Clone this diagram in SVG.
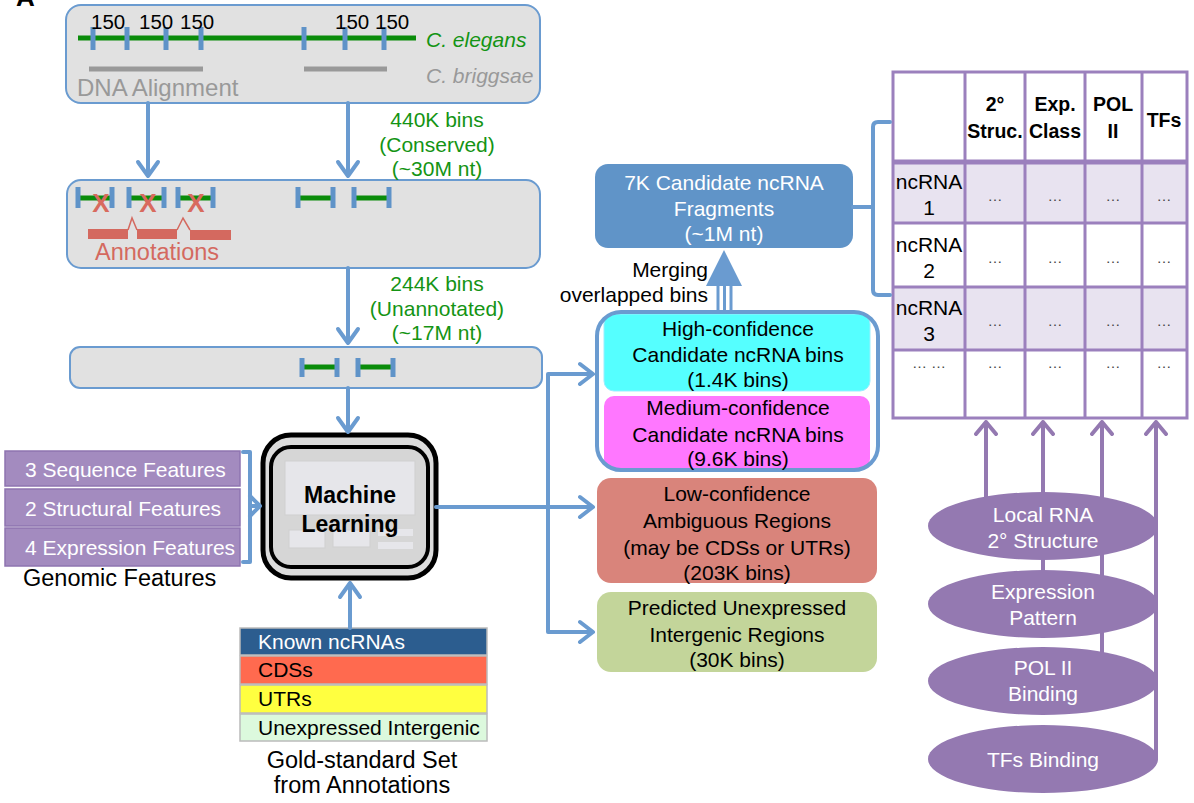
<svg xmlns="http://www.w3.org/2000/svg" width="1194" height="803" viewBox="0 0 1194 803">
<defs>
<style>
text{font-family:"Liberation Sans",Arial,sans-serif;}
.box{fill:#e1e1e1;stroke:#6a9bd0;stroke-width:2}
.con{fill:none;stroke:#6a9bd0;stroke-width:4;stroke-linecap:round;stroke-linejoin:round}
.tick{stroke:#5f93c8;stroke-width:5}
.gl{stroke:#0a8c0a;stroke-width:5}
.grn{fill:#149414;font-size:21px;text-anchor:middle}
.feat{fill:#a38bbf;stroke:#8e74b0;stroke-width:1.5}
.ft{fill:#fff;font-size:21px}
.blk{fill:#000;font-size:21px;text-anchor:middle}
.wht{fill:#fff;font-size:21px;text-anchor:middle}
.cell{stroke:#9b80bd;stroke-width:3}
.hd{font-size:19.5px;font-weight:bold;text-anchor:middle;fill:#000}
.rl{font-size:21px;text-anchor:middle;fill:#000}
.dots{font-size:15px;text-anchor:middle;fill:#444}
.pcon{fill:none;stroke:#9479b1;stroke-width:4;stroke-linecap:round;stroke-linejoin:round}
.ell{fill:#9479b1}
.gs{font-size:21px}
</style>
</defs>
<rect width="1194" height="803" fill="#fff"/>
<text x="16" y="6" font-size="26" font-weight="bold" fill="#000">A</text>

<g id="dna-alignment">
<rect class="box" x="66" y="5" width="474" height="98" rx="15"/>
<line class="gl" x1="78" y1="38" x2="416" y2="38"/>
<g class="tick"><line x1="93" y1="27" x2="93" y2="50"/><line x1="127" y1="27" x2="127" y2="50"/><line x1="166" y1="27" x2="166" y2="50"/><line x1="201" y1="27" x2="201" y2="50"/><line x1="304" y1="27" x2="304" y2="50"/><line x1="345" y1="27" x2="345" y2="50"/><line x1="384" y1="27" x2="384" y2="50"/></g>
<g font-size="20.5" fill="#000"><text x="91" y="29">150</text><text x="139" y="29">150</text><text x="180" y="29">150</text><text x="335" y="29">150</text><text x="375" y="29">150</text></g>
<text x="426" y="47" font-size="21" font-style="italic" fill="#149414">C. elegans</text>
<line x1="89" y1="69" x2="203" y2="69" stroke="#999" stroke-width="5"/>
<line x1="304" y1="69" x2="387" y2="69" stroke="#999" stroke-width="5"/>
<text x="426" y="83" font-size="21" font-style="italic" fill="#999">C. briggsae</text>
<text x="77" y="96" font-size="24" fill="#999">DNA Alignment</text>
</g>

<g id="conserved-bins">
<rect class="box" x="67" y="180" width="473" height="88" rx="14"/>
<g class="gl"><line x1="78" y1="198" x2="112" y2="198"/><line x1="129" y1="198" x2="164" y2="198"/><line x1="178" y1="198" x2="213" y2="198"/><line x1="298" y1="198" x2="333" y2="198"/><line x1="354" y1="198" x2="389" y2="198"/></g>
<g class="tick"><line x1="78" y1="187" x2="78" y2="208"/><line x1="112" y1="187" x2="112" y2="208"/><line x1="129" y1="187" x2="129" y2="208"/><line x1="164" y1="187" x2="164" y2="208"/><line x1="178" y1="187" x2="178" y2="208"/><line x1="213" y1="187" x2="213" y2="208"/><line x1="298" y1="187" x2="298" y2="208"/><line x1="333" y1="187" x2="333" y2="208"/><line x1="354" y1="187" x2="354" y2="208"/><line x1="389" y1="187" x2="389" y2="208"/></g>
<g font-size="26" font-weight="bold" fill="#d86a5e" text-anchor="middle"><text x="101" y="212">X</text><text x="148" y="212">X</text><text x="196" y="212">X</text></g>
<g fill="#d4695f"><rect x="88" y="229" width="40" height="10"/><rect x="137" y="229" width="40" height="10"/><rect x="190" y="230" width="41" height="10"/></g>
<polyline points="128,230 132,218 137,230" fill="none" stroke="#d4695f" stroke-width="1.5"/>
<polyline points="177,230 183,218 190,230" fill="none" stroke="#d4695f" stroke-width="1.5"/>
<text x="95" y="260" font-size="23.5" fill="#d4695f">Annotations</text>
</g>

<g id="unannotated-bins">
<rect class="box" x="70" y="347" width="472" height="41" rx="10"/>
<g class="gl"><line x1="302" y1="367" x2="337" y2="367"/><line x1="358" y1="367" x2="393" y2="367"/></g>
<g class="tick"><line x1="302" y1="358" x2="302" y2="377"/><line x1="337" y1="358" x2="337" y2="377"/><line x1="358" y1="358" x2="358" y2="377"/><line x1="393" y1="358" x2="393" y2="377"/></g>
</g>

<g id="labels-bins">
<text class="grn" x="437" y="127">440K bins</text>
<text class="grn" x="437" y="152">(Conserved)</text>
<text class="grn" x="437" y="176">(~30M nt)</text>
<text class="grn" x="437" y="291">244K bins</text>
<text class="grn" x="437" y="316">(Unannotated)</text>
<text class="grn" x="437" y="340">(~17M nt)</text>
</g>

<g id="machine-learning">
<rect x="263" y="435" width="173" height="143" rx="28" fill="#dcdcdc" stroke="#000" stroke-width="5"/>
<rect x="271" y="447" width="157" height="120" rx="20" fill="#d6d6d6" stroke="#000" stroke-width="4"/>
<rect x="285" y="461" width="130" height="54" fill="#e6e6ea" stroke="#cfcfcf" stroke-width="1"/>
<rect x="289" y="530" width="36" height="18" fill="#e6e6ea" stroke="#cfcfcf" stroke-width="1"/>
<rect x="333" y="530" width="37" height="17" fill="#e6e6ea" stroke="#cfcfcf" stroke-width="1"/>
<rect x="378" y="529" width="35" height="7" fill="#e6e6ea"/>
<rect x="378" y="542" width="35" height="7" fill="#e6e6ea"/>
<text x="350" y="503" font-size="23" font-weight="bold" text-anchor="middle">Machine</text>
<text x="350" y="532" font-size="23" font-weight="bold" text-anchor="middle">Learning</text>
</g>

<g id="genomic-features">
<rect class="feat" x="5" y="451" width="235" height="35"/>
<rect class="feat" x="5" y="489" width="235" height="37"/>
<rect class="feat" x="5" y="528" width="235" height="38"/>
<text class="ft" x="25" y="477">3 Sequence Features</text>
<text class="ft" x="25" y="516">2 Structural Features</text>
<text class="ft" x="25" y="555">4 Expression Features</text>
<text x="23" y="586" font-size="23.5" fill="#000">Genomic Features</text>
</g>

<g id="gold-standard">
<rect x="240" y="628" width="247" height="27" fill="#2c5d8f" stroke="#bbb" stroke-width="1.5"/>
<rect x="240" y="656" width="247" height="28" fill="#ff6a4f" stroke="#bbb" stroke-width="1.5"/>
<rect x="240" y="685" width="247" height="28" fill="#ffff40" stroke="#bbb" stroke-width="1.5"/>
<rect x="240" y="714" width="247" height="27" fill="#dcf9dd" stroke="#bbb" stroke-width="1.5"/>
<text class="gs" x="258" y="649" fill="#fff">Known ncRNAs</text>
<text class="gs" x="258" y="677" fill="#000">CDSs</text>
<text class="gs" x="258" y="706" fill="#000">UTRs</text>
<text class="gs" x="258" y="735" fill="#000">Unexpressed Intergenic</text>
<text x="362" y="768" font-size="23.5" text-anchor="middle">Gold-standard Set</text>
<text x="362" y="793" font-size="23.5" text-anchor="middle">from Annotations</text>
</g>

<g id="candidate-fragments">
<rect x="595" y="164" width="258" height="84" rx="13" fill="#6094c8"/>
<text class="wht" x="724" y="190">7K Candidate ncRNA</text>
<text class="wht" x="724" y="216">Fragments</text>
<text class="wht" x="724" y="241">(~1M nt)</text>
</g>

<g id="candidate-bins">
<rect x="604" y="314" width="266" height="77" rx="10" fill="#55ffff" stroke="#9ef" stroke-width="1"/>
<rect x="604" y="396" width="266" height="73" rx="10" fill="#ff77ff"/>
<rect x="597" y="312" width="281" height="158" rx="24" fill="none" stroke="#6a9bd0" stroke-width="4"/>
<text class="blk" x="738" y="336">High-confidence</text>
<text class="blk" x="738" y="362">Candidate ncRNA bins</text>
<text class="blk" x="738" y="387">(1.4K bins)</text>
<text class="blk" x="738" y="415">Medium-confidence</text>
<text class="blk" x="738" y="442">Candidate ncRNA bins</text>
<text class="blk" x="738" y="466">(9.6K bins)</text>
</g>

<g id="low-confidence">
<rect x="597" y="478" width="280" height="105" rx="14" fill="#d9847b"/>
<text class="blk" x="737" y="501">Low-confidence</text>
<text class="blk" x="737" y="528">Ambiguous Regions</text>
<text class="blk" x="737" y="555">(may be CDSs or UTRs)</text>
<text class="blk" x="737" y="580">(203K bins)</text>
</g>

<g id="predicted-unexpressed">
<rect x="597" y="592" width="280" height="80" rx="14" fill="#c3d59a"/>
<text class="blk" x="737" y="615">Predicted Unexpressed</text>
<text class="blk" x="737" y="642">Intergenic Regions</text>
<text class="blk" x="737" y="667">(30K bins)</text>
</g>

<g id="feature-table">
<rect x="893" y="162" width="294" height="61" fill="#e8e3f0"/>
<rect x="893" y="287" width="294" height="63" fill="#e8e3f0"/>
<g class="cell" fill="none">
<rect x="893" y="72" width="294" height="346"/>
<line x1="965" y1="72" x2="965" y2="418"/><line x1="1025" y1="72" x2="1025" y2="418"/><line x1="1085" y1="72" x2="1085" y2="418"/><line x1="1142" y1="72" x2="1142" y2="418"/>
<line x1="893" y1="162" x2="1187" y2="162" stroke-width="5"/>
<line x1="893" y1="223" x2="1187" y2="223"/><line x1="893" y1="287" x2="1187" y2="287"/><line x1="893" y1="350" x2="1187" y2="350"/>
</g>
<text class="hd" x="995" y="111">2°</text><text class="hd" x="995" y="138">Struc.</text>
<text class="hd" x="1055" y="111">Exp.</text><text class="hd" x="1055" y="138">Class</text>
<text class="hd" x="1113" y="111">POL</text><text class="hd" x="1113" y="138">II</text>
<text class="hd" x="1164" y="127">TFs</text>
<text class="rl" x="929" y="189">ncRNA</text><text class="rl" x="929" y="215">1</text>
<text class="rl" x="929" y="252">ncRNA</text><text class="rl" x="929" y="278">2</text>
<text class="rl" x="929" y="315">ncRNA</text><text class="rl" x="929" y="341">3</text>
<text class="dots" x="929" y="368">… …</text>
<g class="dots">
<text x="995" y="201">…</text><text x="1055" y="201">…</text><text x="1113" y="201">…</text><text x="1164" y="201">…</text>
<text x="995" y="263">…</text><text x="1055" y="263">…</text><text x="1113" y="263">…</text><text x="1164" y="263">…</text>
<text x="995" y="326">…</text><text x="1055" y="326">…</text><text x="1113" y="326">…</text><text x="1164" y="326">…</text>
<text x="995" y="368">…</text><text x="1055" y="368">…</text><text x="1113" y="368">…</text><text x="1164" y="368">…</text>
</g>
</g>

<g id="connectors">
<path class="con" d="M148,103 V176 M138,162 L148,176 L158,162"/>
<path class="con" d="M348,103 V176 M338,162 L348,176 L358,162"/>
<path class="con" d="M348,268 V343 M338,329 L348,343 L358,329"/>
<path class="con" d="M348,388 V432 M338,418 L348,432 L358,418"/>
<path class="con" d="M350,628 V583 M340,597 L350,583 L360,597"/>
<path class="con" d="M243,452 H250 V562 H243 M250,506 H260 M250,496 L260,506 L250,516"/>
<path class="con" d="M436,507 H592 M548,632 V374 H592 M548,632 H592 M580,364 L593,374 L580,384 M580,497 L593,507 L580,517 M580,622 L593,632 L580,642"/>
<path class="con" d="M853,207 H873 M890,122 H878 Q873,122 873,127 V290 Q873,295 878,295 H890"/>
<polygon points="724,250 706,286 742,286" fill="#6a9bd0"/>
<g stroke="#6a9bd0" stroke-width="3"><line x1="718" y1="285" x2="718" y2="312"/><line x1="724.5" y1="285" x2="724.5" y2="312"/><line x1="731" y1="285" x2="731" y2="312"/></g>
<path class="pcon" d="M986,526 V422 M976,434 L986,422 L996,434"/>
<path class="pcon" d="M1043,604 V422 M1033,434 L1043,422 L1053,434"/>
<path class="pcon" d="M1102,681 V422 M1092,434 L1102,422 L1112,434"/>
</g>
<text x="708" y="277" font-size="21" text-anchor="end">Merging</text>
<text x="708" y="302" font-size="21" text-anchor="end">overlapped bins</text>

<g id="ellipse-tfs"><ellipse class="ell" cx="1043" cy="759" rx="115" ry="34"/><text class="wht" x="1043" y="767">TFs Binding</text></g>
<g id="ellipse-pol"><ellipse class="ell" cx="1043" cy="681" rx="115" ry="34"/><text class="wht" x="1043" y="675">POL II</text><text class="wht" x="1043" y="701">Binding</text></g>
<g id="ellipse-expr"><ellipse class="ell" cx="1043" cy="604" rx="115" ry="34"/><text class="wht" x="1043" y="599">Expression</text><text class="wht" x="1043" y="625">Pattern</text></g>
<g id="ellipse-struct"><ellipse class="ell" cx="1043" cy="526" rx="115" ry="34"/><text class="wht" x="1043" y="522">Local RNA</text><text class="wht" x="1043" y="548">2° Structure</text></g>
<path class="pcon" d="M1156,759 V422 M1146,434 L1156,422 L1166,434"/>
</svg>
